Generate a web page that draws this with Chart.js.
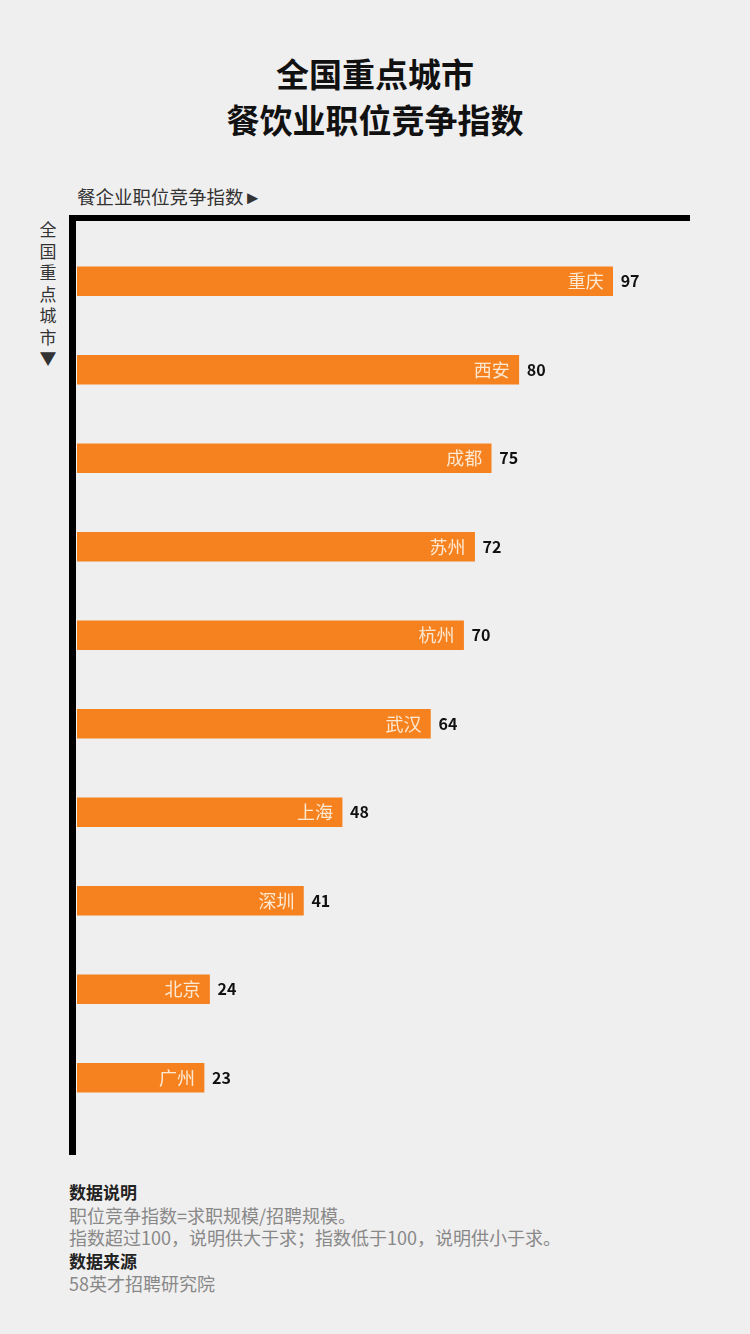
<!DOCTYPE html>
<html>
<head>
<meta charset="utf-8">
<script src="https://cdn.jsdelivr.net/npm/chart.js@4/dist/chart.umd.min.js"></script>
<style>
  body { margin: 0; background: #f0efef; font-family: "Noto Sans CJK SC", "Noto Sans", sans-serif; }
  #page { position: relative; width: 750px; height: 1334px; overflow: hidden; }
  #title { position: absolute; top: 50px; left: 0; width: 750px; text-align: center;
    font-size: 33px; font-weight: bold; line-height: 46px; color: #111; }
  #xTitle { position: absolute; top: 183px; left: 77px; font-size: 18.5px; color: #333; }
  #yTitle { position: absolute; top: 218px; left: 38px; width: 20px; font-size: 17px;
    line-height: 21.5px; color: #333; word-break: break-all; text-align: center; }
  #chartBox { position: absolute; top: 160px; left: 0; width: 750px; height: 1010px; }
  #notes { position: absolute; top: 1180px; left: 69px; font-size: 18px; line-height: 22.5px; color: #888; }
  #notes b { color: #222; font-size: 17px; }
</style>
</head>
<body>
<div id="page">
  <div id="title">全国重点城市<br>餐饮业职位竞争指数</div>
  <div id="xTitle">餐企业职位竞争指数►</div>
  <div id="yTitle">全国重点城市▼</div>
  <div id="chartBox"><canvas id="cityChart"></canvas></div>
  <div id="notes">
    <b>数据说明</b><br>
    职位竞争指数=求职规模/招聘规模。<br>
    指数超过100，说明供大于求；指数低于100，说明供小于求。<br>
    <b>数据来源</b><br>
    58英才招聘研究院
  </div>
</div>
<script>
const cities = ["重庆", "西安", "成都", "苏州", "杭州", "武汉", "上海", "深圳", "北京", "广州"];
const indexValues = [97, 80, 75, 72, 70, 64, 48, 41, 24, 23];

// 黑色坐标轴线 + 柱内城市名 + 柱外数值
const labelPlugin = {
  id: "barLabels",
  afterDatasetsDraw(chart) {
    const ctx = chart.ctx;
    const area = chart.chartArea;
    ctx.save();
    ctx.fillStyle = "#000";
    ctx.fillRect(area.left - 8, area.top - 22, area.right - area.left + 8, 6);
    ctx.fillRect(area.left - 8, area.top - 22, 7, area.bottom - area.top + 55);

    const meta = chart.getDatasetMeta(0);
    ctx.textBaseline = "middle";
    meta.data.forEach((bar, i) => {
      ctx.font = "18px 'Noto Sans CJK SC'";
      ctx.fillStyle = "#fde8d2";
      ctx.textAlign = "right";
      ctx.fillText(cities[i], bar.x - 9, bar.y);
      ctx.font = "bold 16px 'Noto Sans CJK SC'";
      ctx.fillStyle = "#111";
      ctx.textAlign = "left";
      ctx.fillText(indexValues[i], bar.x + 8, bar.y);
    });
    ctx.restore();
  }
};

new Chart(document.getElementById("cityChart"), {
  type: "bar",
  data: {
    labels: cities,
    datasets: [{
      data: indexValues,
      backgroundColor: "#f5821f",
      barThickness: 29
    }]
  },
  options: {
    responsive: true,
    maintainAspectRatio: false,
    animation: false,
    indexAxis: "y",
    layout: { padding: { left: 77, right: 60, top: 77, bottom: 48 } },
    plugins: { legend: { display: false }, tooltip: { enabled: false } },
    scales: {
      x: { display: false, min: 0, max: 111 },
      y: { display: false }
    }
  },
  plugins: [labelPlugin]
});
</script>
</body>
</html>
